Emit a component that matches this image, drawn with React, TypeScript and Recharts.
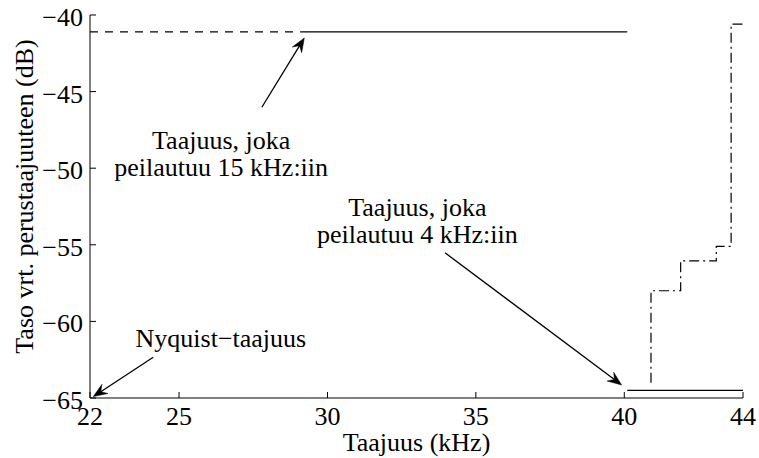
import React from 'react';
import { LineChart, Line, XAxis, YAxis, ReferenceLine, ReferenceDot } from 'recharts';

const FONT = "'Liberation Serif', Tinos, 'Times New Roman', 'Nimbus Roman', 'DejaVu Serif', serif";
const FS = 26;
const TXT = { fontFamily: FONT, fontSize: FS, fill: '#000' } as const;

// axis ticks
const xTicks = [22, 25, 30, 35, 40, 44];
const yTicks = [-65, -60, -55, -50, -45, -40];

// series
const dashedX = [22, 29.1];
const dashedY = [-41.1, -41.1];
const topSolidX = [29.1, 40.1];
const topSolidY = [-41.1, -41.1];
const bottomSolidX = [40.1, 44];
const bottomSolidY = [-64.5, -64.5];
const stairsX = [40.9, 40.9, 41.9, 41.9, 43.1, 43.1, 43.6, 43.6, 44];
const stairsY = [-64.0, -58.0, -58.0, -56.05, -56.05, -55.1, -55.1, -40.6, -40.6];

// annotations
const arrowTailX = [27.79, 33.96, 24.13];
const arrowTailY = [-46.02, -55.52, -62.34];
const arrowTipX = [29.22, 39.91, 22.11];
const arrowTipY = [-41.5, -64.15, -64.91];
const noteLines = [
  ['Taajuus, joka', 'peilautuu 15 kHz:iin'],
  ['Taajuus, joka', 'peilautuu 4 kHz:iin'],
  ['Nyquist\u2212taajuus'],
];
const noteX = [26.42, 33.03, 26.41];
const noteY = [-48.75, -53.1, -61.65];

const xLabel = 'Taajuus (kHz)';
const yLabel = 'Taso vrt. perustaajuuteen (dB)';

const zip = (xs: number[], ys: number[]) => xs.map((x, i) => ({ x, y: ys[i] }));
const fmt = (v: number) => String(v).replace('-', '\u2212');

const BottomTick = (p: any) => (
  <g>
    <line x1={p.x} y1={p.y} x2={p.x} y2={p.y - 6} stroke="#000" strokeWidth={1} />
    <text x={p.x} y={p.y + 27} textAnchor="middle" style={TXT}>
      {fmt(p.payload.value)}
    </text>
  </g>
);
const TopTick = (p: any) => (
  <line x1={p.x} y1={p.y} x2={p.x} y2={p.y + 6} stroke="#000" strokeWidth={1} />
);
const LeftTick = (p: any) => (
  <g>
    <line x1={p.x} y1={p.y} x2={p.x + 6} y2={p.y} stroke="#000" strokeWidth={1} />
    <text x={p.x - 7} y={p.y} dy={11} textAnchor="end" style={TXT}>
      {fmt(p.payload.value)}
    </text>
  </g>
);
const RightTick = (p: any) => (
  <line x1={p.x} y1={p.y} x2={p.x - 6} y2={p.y} stroke="#000" strokeWidth={1} />
);

const XLabel = (p: any) => {
  const vb = p.viewBox;
  return (
    <text x={vb.x + vb.width / 2} y={vb.y + 53} textAnchor="middle" style={TXT}>
      {xLabel}
    </text>
  );
};
const YLabel = (p: any) => {
  const vb = p.viewBox;
  const x = vb.x + 32.5;
  const y = vb.y + vb.height / 2 - 10;
  return (
    <text x={x} y={y} transform={`rotate(-90, ${x}, ${y})`} textAnchor="middle" style={TXT}>
      {yLabel}
    </text>
  );
};

const Arrow = (props: any) => {
  const { x1, y1, x2, y2 } = props;
  const dx = x2 - x1;
  const dy = y2 - y1;
  const len = Math.hypot(dx, dy) || 1;
  const ux = dx / len;
  const uy = dy / len;
  const px = -uy;
  const py = ux;
  const L = 14;
  const W = 5.5;
  const N = 9;
  const bx = x2 - ux * L;
  const by = y2 - uy * L;
  const nx = x2 - ux * N;
  const ny = y2 - uy * N;
  const pts = `${x2},${y2} ${bx + px * W},${by + py * W} ${nx},${ny} ${bx - px * W},${by - py * W}`;
  return (
    <g>
      <line x1={x1} y1={y1} x2={nx} y2={ny} stroke="#000" strokeWidth={1.3} />
      <polygon points={pts} fill="#000" stroke="#000" strokeWidth={0.5} />
    </g>
  );
};

const makeNote = (lines: string[]) => (p: any) => (
  <text x={p.cx} y={p.cy} textAnchor="middle" style={TXT}>
    {lines.map((t, i) => (
      <tspan key={i} x={p.cx} dy={i === 0 ? 0 : 27}>
        {t}
      </tspan>
    ))}
  </text>
);

export default function App() {
  return (
    <div style={{ position: 'absolute', left: 0, top: 0, width: 759, height: 458, background: '#fff' }}>
      <LineChart width={759} height={458} margin={{ top: 15, right: 16, bottom: 0, left: 0 }}>
        <XAxis
          dataKey="x"
          type="number"
          domain={[22, 44]}
          allowDataOverflow
          ticks={xTicks}
          interval={0}
          height={60}
          tickSize={0}
          tickMargin={0}
          tickLine={false}
          axisLine={{ stroke: '#000', strokeWidth: 1 }}
          tick={<BottomTick />}
          label={<XLabel />}
        />
        <XAxis
          xAxisId="top"
          orientation="top"
          dataKey="x"
          type="number"
          domain={[22, 44]}
          allowDataOverflow
          ticks={xTicks}
          interval={0}
          height={0}
          tickSize={0}
          tickMargin={0}
          tickLine={false}
          axisLine={{ stroke: '#000', strokeWidth: 1 }}
          tick={<TopTick />}
        />
        <YAxis
          type="number"
          domain={[-65, -40]}
          allowDataOverflow
          ticks={yTicks}
          interval={0}
          width={90}
          tickSize={0}
          tickMargin={0}
          tickLine={false}
          axisLine={{ stroke: '#000', strokeWidth: 1 }}
          tick={<LeftTick />}
          label={<YLabel />}
        />
        <YAxis
          yAxisId="right"
          orientation="right"
          type="number"
          domain={[-65, -40]}
          allowDataOverflow
          ticks={yTicks}
          interval={0}
          width={0}
          tickSize={0}
          tickMargin={0}
          tickLine={false}
          axisLine={{ stroke: '#000', strokeWidth: 1 }}
          tick={<RightTick />}
        />
        <Line data={zip(dashedX, dashedY)} dataKey="y" type="linear" stroke="#000" strokeWidth={1.2} strokeDasharray="8 7" dot={false} activeDot={false} isAnimationActive={false} />
        <Line data={zip(topSolidX, topSolidY)} dataKey="y" type="linear" stroke="#000" strokeWidth={1.2} dot={false} activeDot={false} isAnimationActive={false} />
        <Line data={zip(bottomSolidX, bottomSolidY)} dataKey="y" type="linear" stroke="#000" strokeWidth={1.2} dot={false} activeDot={false} isAnimationActive={false} />
        <Line data={zip(stairsX, stairsY)} dataKey="y" type="linear" stroke="#000" strokeWidth={1.2} strokeDasharray="10 4 2 4" dot={false} activeDot={false} isAnimationActive={false} />
        {arrowTailX.map((tx, i) => (
          <ReferenceLine
            key={`a${i}`}
            segment={[
              { x: tx, y: arrowTailY[i] },
              { x: arrowTipX[i], y: arrowTipY[i] },
            ]}
            ifOverflow="visible"
            shape={Arrow}
          />
        ))}
        {noteX.map((nx, i) => (
          <ReferenceDot key={`n${i}`} x={nx} y={noteY[i]} r={0} ifOverflow="visible" shape={makeNote(noteLines[i])} />
        ))}
      </LineChart>
    </div>
  );
}
